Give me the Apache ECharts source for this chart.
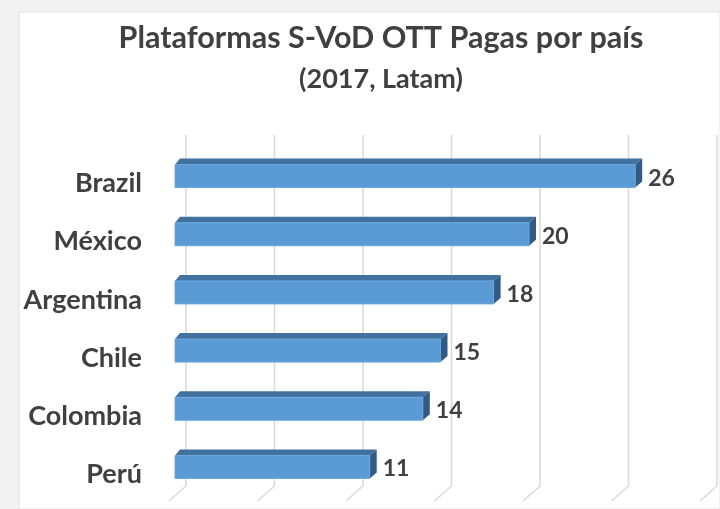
<!DOCTYPE html>
<html>
<head>
<meta charset="utf-8">
<script src="https://cdn.jsdelivr.net/npm/echarts@6/dist/echarts.min.js"></script>
<style>
  html, body { margin: 0; padding: 0; background: #fff; }
  #chart { width: 720px; height: 509px; }
</style>
</head>
<body>
<div id="chart"></div>
<script>
// datos del gráfico
const paises = ['Brazil', 'México', 'Argentina', 'Chile', 'Colombia', 'Perú'];
const plataformas = [26, 20, 18, 15, 14, 11];
const gridTicks = [0, 5, 10, 15, 20, 25, 30];

const myChart = echarts.init(document.getElementById('chart'));

const fontFam = 'Lato, "Open Sans", sans-serif';
const textColor = '#404040';

// barra 3D: cara frontal + cara superior + lateral
function renderBar3d(params, api) {
  const v = api.value(0);
  const cat = api.value(1);
  const p0 = api.coord([0, cat]);
  const p1 = api.coord([v, cat]);
  const h = 23;
  const dx = 7, dy = 6;
  const yc = p0[1];
  const x0 = p0[0], x1 = p1[0];
  const yt = yc - h / 2, yb = yc + h / 2;
  return {
    type: 'group',
    children: [
      {
        type: 'polygon',
        shape: { points: [[x0, yt], [x1, yt], [x1 + dx, yt - dy], [x0 + dx - 2, yt - dy]] },
        style: { fill: '#41729f' }
      },
      {
        type: 'polygon',
        shape: { points: [[x1, yt], [x1 + dx, yt - dy], [x1 + dx, yb - dy], [x1, yb]] },
        style: { fill: '#2f5b86' }
      },
      {
        type: 'rect',
        shape: { x: x0, y: yt, width: x1 - x0, height: h },
        style: { fill: '#5b9bd5', stroke: '#6aa6dc', lineWidth: 1 }
      },
      {
        type: 'text',
        x: x1 + 13,
        y: yc + 2,
        style: {
          text: String(v),
          fill: textColor,
          font: 'bold 23px ' + fontFam,
          verticalAlign: 'middle',
          align: 'left'
        }
      }
    ]
  };
}

// líneas de cuadrícula en la pared del fondo, con el piso inclinado
function renderGrid(params, api) {
  const t = api.value(0);
  const cs = params.coordSys;
  const xb = api.coord([t, 0])[0] + 11;
  const yTop = cs.y - 12;
  const yBack = cs.y + cs.height - 10;
  const yFloor = cs.y + cs.height + 5;
  return {
    type: 'polyline',
    shape: { points: [[xb, yTop], [xb, yBack], [xb - 17, yFloor]] },
    style: { stroke: '#d9d9d9', lineWidth: 1.5, fill: null }
  };
}

const option = {
  backgroundColor: '#ffffff',
  animation: false,
  graphic: [
    { type: 'rect', z: -10, shape: { x: 0, y: 0, width: 720, height: 509 }, style: { fill: '#f2f2f2' } },
    { type: 'rect', z: -10, shape: { x: 19, y: 12, width: 701, height: 497 }, style: { fill: '#ffffff', stroke: '#e2e2e2', lineWidth: 1 } }
  ],
  title: {
    text: 'Plataformas S-VoD OTT Pagas por país',
    subtext: '(2017, Latam)',
    left: 376,
    textAlign: 'center',
    top: 18,
    itemGap: 12,
    textStyle: { fontFamily: fontFam, fontWeight: 'bold', fontSize: 30.5, color: textColor },
    subtextStyle: { fontFamily: fontFam, fontWeight: 'bold', fontSize: 27, color: textColor }
  },
  grid: { left: 175, right: 14, top: 147, bottom: 13 },
  xAxis: {
    type: 'value',
    min: 0,
    max: 30,
    interval: 5,
    show: false
  },
  yAxis: {
    type: 'category',
    inverse: true,
    data: paises,
    axisLine: { show: false },
    axisTick: { show: false },
    splitLine: { show: false },
    axisLabel: {
      margin: 33,
      fontFamily: fontFam,
      fontWeight: 'bold',
      fontSize: 27,
      color: textColor,
      verticalAlign: 'top',
      lineHeight: 15
    }
  },
  series: [
    {
      type: 'custom',
      z: 1,
      renderItem: renderGrid,
      data: gridTicks.map(t => [t, 0]),
      silent: true
    },
    {
      type: 'custom',
      z: 2,
      renderItem: renderBar3d,
      data: plataformas.map((v, i) => [v, i])
    }
  ]
};
myChart.setOption(option);
</script>
</body>
</html>
